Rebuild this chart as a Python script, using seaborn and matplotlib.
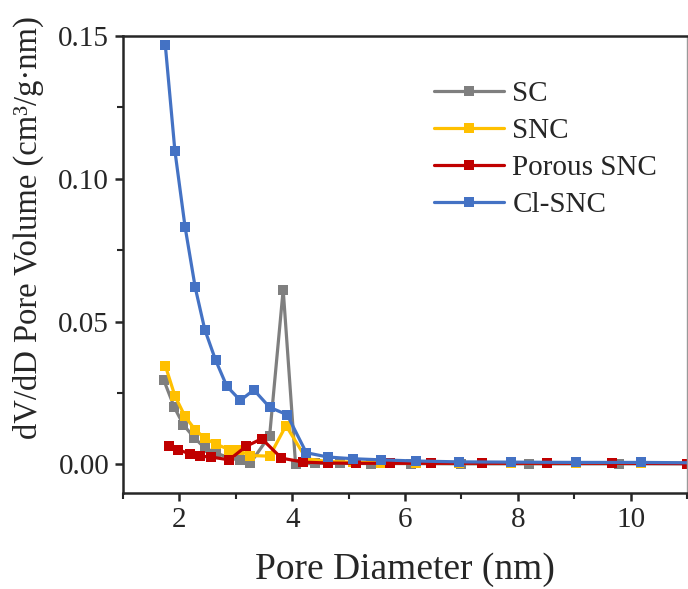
import numpy as np
import pandas as pd
import matplotlib
matplotlib.use("Agg")
import matplotlib.pyplot as plt
from matplotlib.ticker import MultipleLocator, FormatStrFormatter
import seaborn as sns

# BJH pore size distributions, dV/dD (cm3/g·nm) versus pore diameter (nm)
sc_d = [1.72, 1.91, 2.07, 2.26, 2.45, 2.65, 2.88, 3.08, 3.26, 3.60, 3.84, 4.06,
        4.40, 4.85, 5.40, 6.10, 7.00, 8.20, 9.80, 11.8]
sc_v = [0.0297, 0.0200, 0.0139, 0.0094, 0.0058, 0.0040, 0.0023, 0.0014, 0.0005,
        0.0101, 0.0612, 0.0000, 0.0004, 0.0004, 0.0003, 0.0003, 0.0002, 0.0002,
        0.0002, 0.0002]

snc_d = [1.75, 1.92, 2.10, 2.28, 2.45, 2.64, 2.88, 3.05, 3.26, 3.60, 3.89, 4.25,
         4.63, 5.07, 5.58, 6.19, 6.95, 7.88, 9.04, 10.19, 11.7]
snc_v = [0.0346, 0.0240, 0.0168, 0.0121, 0.0092, 0.0072, 0.0052, 0.0049, 0.0031,
         0.0029, 0.0136, 0.0020, 0.0010, 0.0008, 0.0006, 0.0006, 0.0005, 0.0005,
         0.0005, 0.0005, 0.0004]

psnc_d = [1.81, 1.98, 2.19, 2.36, 2.56, 2.88, 3.18, 3.46, 3.81, 4.20, 4.63, 5.13,
          5.74, 6.47, 7.37, 8.51, 9.67, 11.0, 12.5]
psnc_v = [0.0063, 0.0051, 0.0037, 0.0029, 0.0026, 0.0016, 0.0063, 0.0090, 0.0022,
          0.0008, 0.0005, 0.0004, 0.0004, 0.0004, 0.0004, 0.0004, 0.0004, 0.0003,
          0.0003]

clsnc_d = [1.75, 1.92, 2.10, 2.28, 2.45, 2.64, 2.84, 3.08, 3.32, 3.60, 3.91, 4.25,
           4.63, 5.07, 5.58, 6.19, 6.95, 7.88, 9.04, 10.19, 11.6]
clsnc_v = [0.1468, 0.1098, 0.0832, 0.0620, 0.0472, 0.0366, 0.0274, 0.0224, 0.0261,
           0.0200, 0.0174, 0.0041, 0.0026, 0.0020, 0.0016, 0.0012, 0.0009, 0.0008,
           0.0007, 0.0007, 0.0005]

series = [
    ("SC", sc_d, sc_v, "#7f7f7f"),
    ("SNC", snc_d, snc_v, "#ffc000"),
    ("Porous SNC", psnc_d, psnc_v, "#c00000"),
    ("Cl-SNC", clsnc_d, clsnc_v, "#4472c4"),
]

sns.set_style("ticks")
plt.rcParams["font.family"] = ["Liberation Serif", "DejaVu Serif"]
plt.rcParams["axes.linewidth"] = 1.8

fig = plt.figure(figsize=(6.88, 5.89), dpi=100)
ax = fig.add_axes([0.1788, 0.163, 0.8197, 0.7759])

for name, d, v, col in series:
    df = pd.DataFrame({"d": d, "v": v})
    sns.lineplot(data=df, x="d", y="v", ax=ax, color=col, label=name,
                 sort=False, estimator=None, linewidth=2.3,
                 marker="s", markersize=7.5, markeredgewidth=0, clip_on=True)

ax.set_xlim(1, 11)
ax.set_ylim(-0.01, 0.15)
ax.xaxis.set_major_locator(MultipleLocator(2))
ax.xaxis.set_minor_locator(MultipleLocator(1))
ax.yaxis.set_major_locator(MultipleLocator(0.05))
ax.yaxis.set_minor_locator(MultipleLocator(0.025))
ax.yaxis.set_major_formatter(FormatStrFormatter("%.2f"))

ax.tick_params(which="major", direction="out", length=6, width=1.8,
               labelsize=21, top=False, right=False, pad=4)
ax.tick_params(which="minor", direction="out", length=4, width=1.5,
               top=False, right=False)

ax.set_xlabel("Pore Diameter (nm)", fontsize=27, labelpad=14)
ax.set_ylabel("dV/dD Pore Volume (cm³/g·nm)", fontsize=23.5)
ax.yaxis.set_label_coords(-0.14, 0.58)

ax.spines["right"].set_linewidth(1.0)
ax.spines["right"].set_color("#999999")

leg = ax.legend(loc="upper left", bbox_to_anchor=(0.53, 0.928), frameon=False,
                fontsize=21, handlelength=2.4, handletextpad=0.3,
                labelspacing=0.36, borderaxespad=0)

fig.savefig("out.png", dpi=100)
